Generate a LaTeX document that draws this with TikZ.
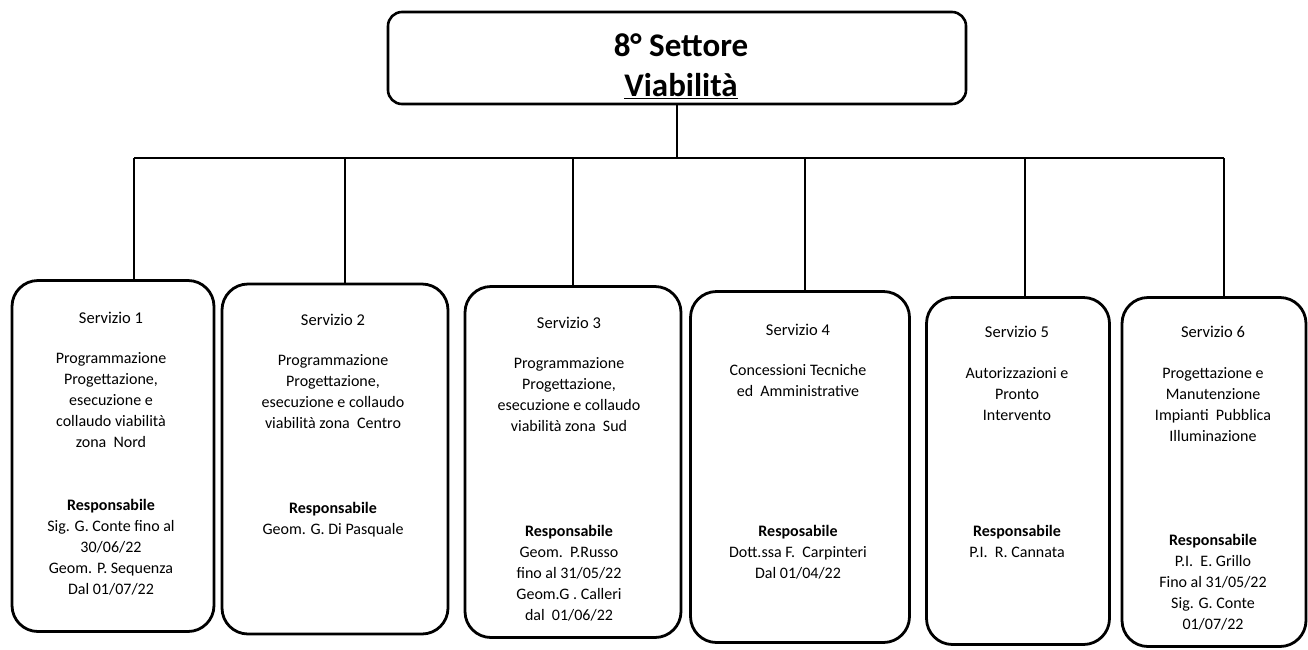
\documentclass[tikz,border=0pt]{standalone}
\usepackage{fontspec}
\setmainfont{Carlito}
\begin{document}
\begin{tikzpicture}[x=1pt,y=-1pt,
  svbox/.style={draw=black,line width=2.8pt,rounded corners=26pt,inner sep=0pt},
  topbox/.style={draw=black,line width=2.6pt,rounded corners=14pt,inner sep=0pt,minimum width=578pt,minimum height=92pt},
  wire/.style={draw=black,line width=1.3pt},
  txt/.style={align=center,inner sep=0pt,anchor=north,font=\fontsize{16}{21}\selectfont},
  hd/.style={align=center,inner sep=0pt,font=\fontsize{16.5}{18}\selectfont}
]
\useasboundingbox (0,0) rectangle (1308,649);
\fill[white] (0,0) rectangle (1308,649);

% top box
\node[topbox] (top) at (677,58) {};
\node[align=center,inner sep=0pt,font=\fontsize{33}{40}\selectfont\bfseries] (toptxt) at (681,66) {8° Settore\\\underline{Viabilità}};

% service boxes
\node[svbox,minimum width=202pt,minimum height=351pt] (b1) at (113,456) {};
\node[svbox,minimum width=226pt,minimum height=350pt] (b2) at (335,459) {};
\node[svbox,minimum width=216pt,minimum height=351pt] (b3) at (573,462) {};
\node[svbox,minimum width=219pt,minimum height=351pt] (b4) at (800,467) {};
\node[svbox,minimum width=183pt,minimum height=347pt] (b5) at (1018,471) {};
\node[svbox,minimum width=184pt,minimum height=349pt] (b6) at (1214,472) {};

% connectors
\coordinate (stem) at (top.south);
\coordinate (d1) at (134,158);
\coordinate (d2) at (345,158);
\coordinate (d3) at (573,158);
\coordinate (d4) at (805,158);
\coordinate (d5) at (1025,158);
\coordinate (d6) at (1224,158);
\draw[wire] (stem) -- (stem |- d1);
\draw[wire] (d1) -- (d6);
\draw[wire] (d1) -- (d1 |- b1.north);
\draw[wire] (d2) -- (d2 |- b2.north);
\draw[wire] (d3) -- (d3 |- b3.north);
\draw[wire] (d4) -- (d4 |- b4.north);
\draw[wire] (d5) -- (d5 |- b5.north);
\draw[wire] (d6) -- (d6 |- b6.north);

% box 1
\node[hd] (h1) at (111,318) {Servizio 1};
\node[txt] (t1) at (111,352) {Programmazione\\Progettazione,\\esecuzione e\\collaudo viabilità\\zona\ \ Nord};
\node[txt] (r1) at (111,499) {\textbf{Responsabile}\\Sig. G. Conte fino al\\30/06/22\\Geom. P. Sequenza\\Dal 01/07/22};

% box 2
\node[hd] (h2) at (333,320) {Servizio 2};
\node[txt] (t2) at (333,354) {Programmazione\\Progettazione,\\esecuzione e collaudo\\viabilità zona\ \ Centro};
\node[txt] (r2) at (333,502) {\textbf{Responsabile}\\Geom. G. Di Pasquale};

% box 3
\node[hd] (h3) at (569,323) {Servizio 3};
\node[txt] (t3) at (569,357) {Programmazione\\Progettazione,\\esecuzione e collaudo\\viabilità zona\ \ Sud};
\node[txt] (r3) at (569,525) {\textbf{Responsabile}\\Geom.\ \ P.Russo\\fino al 31/05/22\\Geom.G . Calleri\\dal\ \ 01/06/22};

% box 4
\node[hd] (h4) at (798,330) {Servizio 4};
\node[txt] (t4) at (798,364) {Concessioni Tecniche\\ed\ \ Amministrative};
\node[txt] (r4) at (798,525) {\textbf{Resposabile}\\Dott.ssa F.\ \ Carpinteri\\Dal 01/04/22};

% box 5
\node[hd] (h5) at (1017,332) {Servizio 5};
\node[txt] (t5) at (1017,367) {Autorizzazioni e\\Pronto\\Intervento};
\node[txt] (r5) at (1017,525) {\textbf{Responsabile}\\P.I.\ \ R. Cannata};

% box 6
\node[hd] (h6) at (1213,332) {Servizio 6};
\node[txt] (t6) at (1213,367) {Progettazione e\\Manutenzione\\Impianti\ \ Pubblica\\Illuminazione};
\node[txt] (r6) at (1213,534) {\textbf{Responsabile}\\P.I.\ \ E. Grillo\\Fino al 31/05/22\\Sig. G. Conte\\01/07/22};
\end{tikzpicture}
\end{document}
